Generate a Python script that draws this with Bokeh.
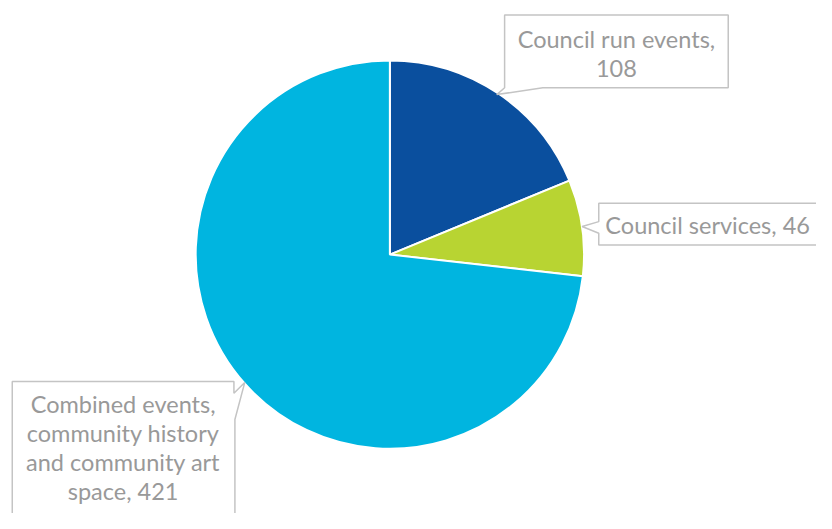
import math
import textwrap
from bokeh.plotting import figure
from bokeh.models import Range1d, ColumnDataSource
from bokeh.core.properties import value
from bokeh.embed import file_html
from bokeh.resources import INLINE

# ---- data ----
categories = ["Council run events", "Council services",
              "Combined events, community history and community art space"]
counts = [108, 46, 421]
colors = ["#0A4F9E", "#B8D432", "#00B5E0"]
wrap_widths = [19, 30, 18]

W, H = 816, 513
REF_W, REF_H = 832, 529
S = W / REF_W


def fy(py):
    # reference pixel y (from top) -> data y (up)
    return REF_H - py


p = figure(width=W, height=H, output_backend="svg", toolbar_location=None,
           x_range=Range1d(0, REF_W), y_range=Range1d(0, REF_H),
           min_border=0, outline_line_color=None)
p.axis.visible = False
p.grid.visible = False
p.background_fill_color = "white"
p.border_fill_color = "white"

# ---- pie ----
cx, cy, r = 397, fy(262), 198
total = sum(counts)
starts, ends = [], []
a = math.pi / 2
for c in counts:
    sweep = 2 * math.pi * c / total
    starts.append(a)
    ends.append(a - sweep)
    a -= sweep
src = ColumnDataSource(dict(start=starts, end=ends, color=colors))
p.wedge(x=cx, y=cy, radius=r, start_angle="start", end_angle="end",
        direction="clock", fill_color="color", line_color="white",
        line_width=2, source=src)

# ---- callouts ----
box_shapes = [
    [(514, 15), (742, 15), (742, 90), (553, 90), (506, 97), (514, 90)],
    [(610, 209), (845, 209), (845, 252), (610, 252), (610, 240), (593, 233), (610, 228)],
    [(12, 393), (238, 393), (238, 405), (249, 394), (239, 432), (239, 545), (12, 545)],
]
text_centers = [(628, 40), (721, 232), (125, 416)]
line_h = 30

p.patches(xs=[[pt[0] for pt in s] for s in box_shapes],
          ys=[[fy(pt[1]) for pt in s] for s in box_shapes],
          fill_color="white", line_color="#C4C4C4", line_width=1.5)

tx, ty, tt = [], [], []
for cat, cnt, ww, (x0, y0) in zip(categories, counts, wrap_widths, text_centers):
    lines = textwrap.wrap(f"{cat}, {cnt}", width=ww)
    for i, ln in enumerate(lines):
        tx.append(x0)
        ty.append(fy(y0 + i * line_h))
        tt.append(ln)
p.text(x=tx, y=ty, text=tt, text_align="center", text_baseline="middle",
       text_font=value("Lato"), text_font_size=f"{24 * S:.1f}px",
       text_color="#999999")

open("out.html", "w").write(file_html(p, INLINE))
